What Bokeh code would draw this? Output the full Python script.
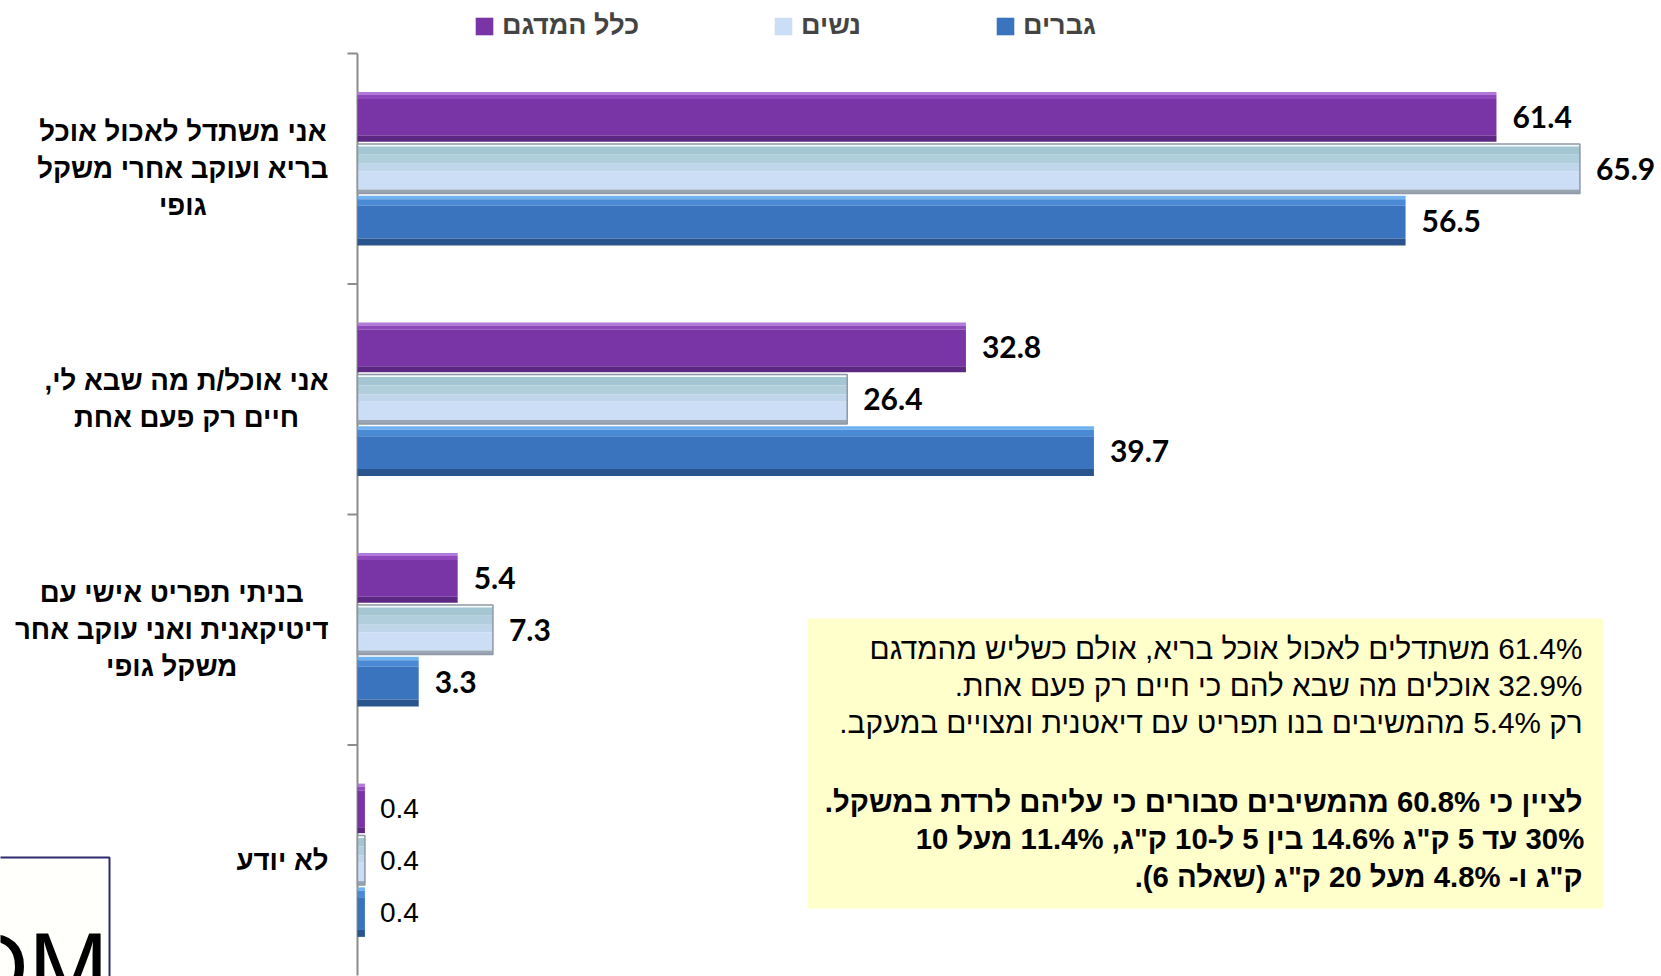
from bokeh.plotting import figure
from bokeh.models import ColumnDataSource, Range1d, Legend, LegendItem
from bokeh.core.properties import value
from bokeh.embed import file_html
from bokeh.resources import INLINE

# ---------------- data ----------------
categories = [
    ["אני משתדל לאכול אוכל", "בריא ועוקב אחרי משקל", "גופי"],
    ["אני אוכל/ת מה שבא לי,", "חיים רק פעם אחת"],
    ["בניתי תפריט אישי עם", "דיטיקאנית ואני עוקב אחר", "משקל גופי"],
    ["לא יודע"],
]
series_names = ["כלל המדגם", "נשים", "גברים"]
total = [61.4, 32.8, 5.4, 0.4]
women = [65.9, 26.4, 7.3, 0.4]
men = [56.5, 39.7, 3.3, 0.4]

note_lines = [
    "61.4% משתדלים לאכול אוכל בריא, אולם כשליש מהמדגם",
    "32.9% אוכלים מה שבא להם כי חיים רק פעם אחת.",
    "רק 5.4% מהמשיבים בנו תפריט עם דיאטנית ומצויים במעקב.",
]
note_bold_lines = [
    "לציין כי 60.8% מהמשיבים סבורים כי עליהם לרדת במשקל.",
    "30% עד 5 ק\"ג 14.6% בין 5 ל-10 ק\"ג, 11.4% מעל 10",
    "ק\"ג ו- 4.8% מעל 20 ק\"ג (שאלה 6).",
]

# ---------------- layout helpers ----------------
W, H = 1661, 976
AX_X = 357.0      # screen x of value 0
PXU = 18.55       # px per value unit
TOP = 53.0        # screen y of top of category axis
CAT_PX = 230.5    # px per category


def dx(sx):
    return (sx - AX_X) / PXU


def dy(sy):
    return 4 - (sy - TOP) / CAT_PX


def rtl(s):
    return "\u200f" + s + "\u200f"


n = len(categories)
ycenters = [n - 0.5 - i for i in range(n)]
PITCH = 0.225
BH = 0.215

p = figure(width=W, height=H, output_backend="svg", toolbar_location=None,
           x_range=Range1d(dx(0), dx(W)), y_range=Range1d(dy(H), dy(0)),
           min_border=0, outline_line_color=None)
p.axis.visible = False
p.grid.visible = False
p.background_fill_color = "white"

# text box background
p.quad(left=[dx(807)], right=[dx(1603)], top=[dy(618)], bottom=[dy(908)],
       fill_color="#FFFFCC", line_color=None)

# logo fragment bottom-left
p.quad(left=[dx(-5)], right=[dx(109)], top=[dy(857)], bottom=[dy(990)],
       fill_color="#FFFFFB", line_color="#2E2A6E", line_width=2)
p.text(x=[dx(108)], y=[dy(912)], text=["DM"], text_align="right", text_baseline="top",
       text_font=value("Liberation Sans"), text_font_size="96px", text_color="black")

# axis line and ticks
p.segment(x0=[0], x1=[0], y0=[0], y1=[n], line_color="#8C8C8C", line_width=2)
p.segment(x0=[0] * n, x1=[-10 / PXU] * n, y0=list(range(1, n + 1)), y1=list(range(1, n + 1)),
          line_color="#8C8C8C", line_width=2)

series = [
    (total, +PITCH, [(0.0, 0.06, "#B27AD8"), (0.06, 0.14, "#8F48BC"), (0.14, 0.88, "#7934A6"),
                     (0.88, 1.0, "#5C2884")], "#7934A6"),
    (women, 0.0, [(0.0, 0.05, "#F4FBFD"), (0.05, 0.22, "#A4C6D2"), (0.22, 0.4, "#B0CEDC"),
                  (0.4, 0.55, "#BFD6EA"), (0.55, 0.92, "#CCDDF6"), (0.92, 1.0, "#9AA5B3")],
     "#CCDDF6"),
    (men, -PITCH, [(0.0, 0.07, "#6FB2F2"), (0.07, 0.2, "#4A8AD4"), (0.2, 0.86, "#3A74BE"),
                   (0.86, 1.0, "#29548E")], "#3A74BE"),
]

legend_items = []
for (vals, off, strips, main), name in zip(series, series_names):
    ys = [yc + off for yc in ycenters]
    main_r = None
    for f0, f1, col in strips:
        src = ColumnDataSource(dict(y=[y + BH / 2 - BH * (f0 + f1) / 2 for y in ys], v=vals))
        r = p.hbar(y="y", height=BH * (f1 - f0), left=0, right="v", source=src,
                   fill_color=col, line_color=None)
        if col == main:
            main_r = r
    if vals is women:
        src = ColumnDataSource(dict(y=ys, v=vals))
        p.hbar(y="y", height=BH, left=0, right="v", source=src, fill_color=None,
               line_color="#8E98A6", line_width=1.5)
    legend_items.append(LegendItem(label=name, renderers=[main_r]))

    lab_src = ColumnDataSource(dict(y=ys[:3], v=vals[:3], t=["%.1f" % v for v in vals[:3]]))
    p.text(x="v", y="y", text="t", source=lab_src, x_offset=16, text_baseline="middle",
           text_align="left", text_font=value("Lato"), text_font_style="bold",
           text_font_size="30px", text_color="black")
    lab_src2 = ColumnDataSource(dict(y=ys[3:], v=vals[3:], t=["%.1f" % v for v in vals[3:]]))
    p.text(x="v", y="y", text="t", source=lab_src2, x_offset=15, text_baseline="middle",
           text_align="left", text_font=value("Liberation Sans"),
           text_font_size="28px", text_color="black")

# category labels
cat_src = ColumnDataSource(dict(x=[dx(328)] * n, y=ycenters,
                                t=["\n".join(rtl(l) for l in c) for c in categories]))
p.text(x="x", y="y", text="t", source=cat_src, anchor=value("center_right"),
       text_align="center", text_baseline="middle", text_font=value("Liberation Sans"),
       text_font_style="bold", text_font_size="27.6px", text_line_height=1.2,
       text_color="black")

# note text
p.text(x=[dx(1582)], y=[dy(685)], text=["\n".join(rtl(l) for l in note_lines)],
       anchor=value("center_right"), text_align="right", text_baseline="middle",
       text_font=value("Liberation Sans"), text_font_size="29.7px", text_line_height=1.135,
       text_color="black")
p.text(x=[dx(1582)], y=[dy(838.5)], text=["\n".join(rtl(l) for l in note_bold_lines)],
       anchor=value("center_right"), text_align="right", text_baseline="middle",
       text_font=value("Liberation Sans"), text_font_style="bold", text_font_size="29.3px",
       text_line_height=1.15, text_color="black")

legend = Legend(items=legend_items, orientation="horizontal", location=(473, 935),
                glyph_width=22, glyph_height=22, label_standoff=7, spacing=133,
                padding=0, margin=0, border_line_alpha=0, background_fill_alpha=0,
                label_text_font="Liberation Sans", label_text_font_style="bold",
                label_text_font_size="27px")
p.add_layout(legend)

open("out.html", "w").write(file_html(p, INLINE))
